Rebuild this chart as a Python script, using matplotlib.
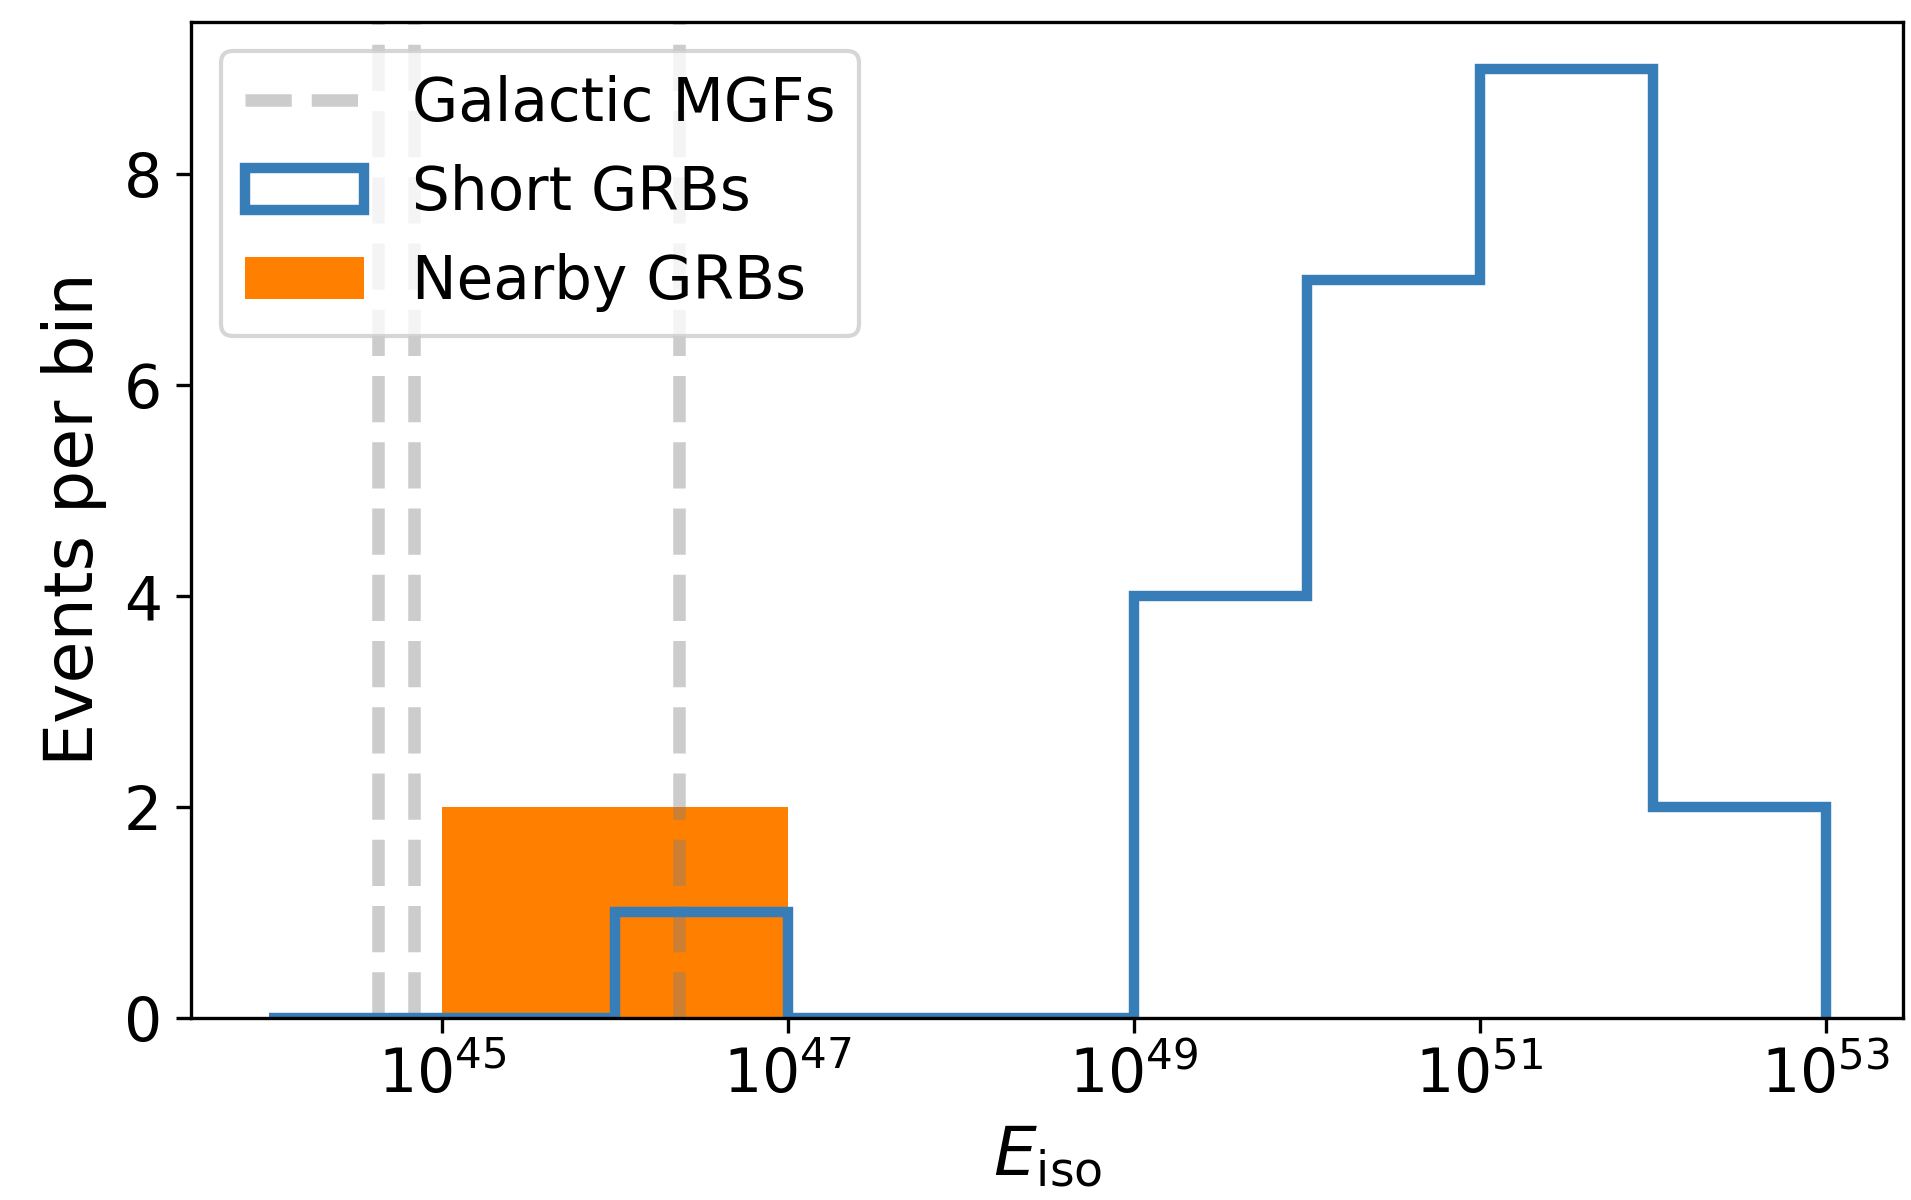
import numpy as np
import matplotlib
matplotlib.use('Agg')
import matplotlib.pyplot as plt
from matplotlib.ticker import NullLocator

# bordes de los bins (log10 E_iso)
log_bordes = [44, 45, 46, 47, 48, 49, 50, 51, 52, 53]
short_grbs = [0, 0, 1, 0, 0, 4, 7, 9, 2]
nearby_grbs = [0, 2, 2, 0, 0, 0, 0, 0, 0]
# energias de las MGFs galacticas (log10)
mgf_log_e = [44.63, 44.84, 46.37]

bordes = 10.0 ** np.array(log_bordes)
centros = np.sqrt(bordes[:-1] * bordes[1:])

fig = plt.figure(figsize=(1911 / 300, 1200 / 300), dpi=300)
ax = fig.add_axes([0.1, 0.152, 0.896, 0.830])

h_mgf = None
for i, e in enumerate(mgf_log_e):
    ln = ax.axvline(10 ** e, color='gray', alpha=0.4, ls='--', lw=3,
                    label='Galactic MGFs' if i == 0 else None)
    if i == 0:
        h_mgf = ln

_, _, p_short = ax.hist(centros, bins=bordes, weights=short_grbs, histtype='step',
                        color='#377eb8', lw=2.5, label='Short GRBs')
_, _, p_near = ax.hist(centros, bins=bordes, weights=nearby_grbs, color='#ff7f00',
                       label='Nearby GRBs')
# barras detras de la linea azul
for p in p_near:
    p.set_zorder(0.9)

ax.set_xscale('log')
ax.set_xticks([1e45, 1e47, 1e49, 1e51, 1e53])
ax.xaxis.set_minor_locator(NullLocator())
ax.tick_params(labelsize=14.4)
ax.set_xlabel(r'$E_{\rm iso}$', fontsize=16.3)
ax.set_ylabel('Events per bin', fontsize=16.4)

ax.legend(handles=[h_mgf, p_short[0], p_near], labels=['Galactic MGFs', 'Short GRBs', 'Nearby GRBs'],
          loc='upper left', fontsize=14.3)

fig.savefig('out.png', dpi=300)
